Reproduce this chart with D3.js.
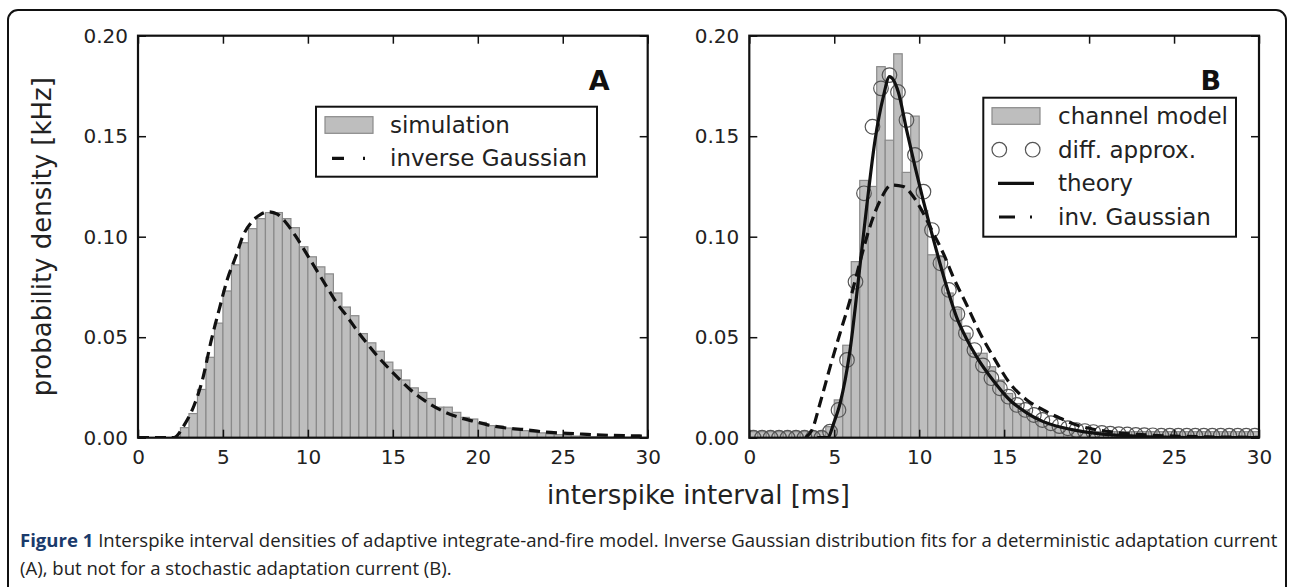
<!DOCTYPE html>
<html>
<head>
<meta charset="utf-8">
<script src="https://cdn.jsdelivr.net/npm/d3@7"></script>
<style>
body { margin: 0; background: #fff; }
svg text { font-family: "DejaVu Sans", sans-serif; fill: #222; }
</style>
</head>
<body>
<div id="chart"></div>
<script>
var width = 1290, height = 587;

// histogram bins (left edges, ms), 0.5 ms wide
var binStart = [0,0.5,1,1.5,2,2.5,3,3.5,4,4.5,5,5.5,6,6.5,7,7.5,8,8.5,9,9.5,
  10,10.5,11,11.5,12,12.5,13,13.5,14,14.5,15,15.5,16,16.5,17,17.5,18,18.5,19,19.5,
  20,20.5,21,21.5,22,22.5,23,23.5,24,24.5,25,25.5,26,26.5,27,27.5,28,28.5,29,29.5];

// panel A: simulation histogram
var simDensity = [0,0,0,0,0.0005,0.005,0.012,0.024,0.040,0.057,
  0.073,0.086,0.097,0.104,0.109,0.112,0.112,0.109,0.1045,0.095,
  0.090,0.085,0.0815,0.072,0.065,0.0607,0.0518,0.0472,0.043,0.0376,
  0.0337,0.0287,0.0248,0.0225,0.0195,0.0152,0.0152,0.0126,0.0101,0.0093,
  0.0076,0.006,0.0058,0.0048,0.0043,0.0035,0.0027,0.0024,0.0018,0.0015,
  0.001,0.0008,0.0006,0.0005,0.0004,0.0003,0.0003,0.0002,0.0002,0.0001];

// panel A: inverse Gaussian fit [ms, kHz]
var invGaussA = [[0,0],[2.1,0],[2.7,0.006],[3.3,0.016],[3.8,0.029],[4.3,0.048],[4.8,0.0645],
  [5.25,0.0786],[5.75,0.090],[6.2,0.1008],[6.7,0.1074],[7.2,0.111],[7.7,0.1124],[8.2,0.1112],
  [8.75,0.1066],[9.3,0.100],[9.9,0.0918],[10.5,0.0835],[11.1,0.0752],[11.7,0.067],[12.3,0.0604],
  [12.85,0.0538],[13.45,0.0472],[14.0,0.0415],[15.0,0.0324],[16.0,0.0241],[16.9,0.0183],
  [17.9,0.0134],[18.9,0.0101],[19.8,0.0081],[20.8,0.006],[21.8,0.0047],[22.8,0.004],
  [23.75,0.003],[24.7,0.0024],[25.7,0.002],[26.7,0.0015],[27.7,0.0012],[28.6,0.001],[30,0.0008]];

// panel B: channel model histogram
var channelDensity = [0.003,0.003,0.003,0.003,0.003,0.003,0.003,0.003,0.003,0.0055,
  0.0188,0.046,0.0876,0.128,0.125,0.1846,0.148,0.191,0.132,0.160,
  0.113,0.091,0.090,0.072,0.064,0.052,0.042,0.042,0.0353,0.0287,
  0.022,0.017,0.0138,0.0104,0.008,0.0063,0.0052,0.0042,0.0035,0.003,
  0.003,0.003,0.003,0.003,0.003,0.003,0.003,0.003,0.003,0.003,
  0.003,0.003,0.003,0.003,0.003,0.003,0.003,0.003,0.003,0.003];

// panel B: diffusion approximation (bin centres)
var diffCenter = [0.25,0.75,1.25,1.75,2.25,2.75,3.25,3.75,4.25,4.75,5.25,5.75,6.25,6.75,7.25,7.75,
  8.25,8.75,9.25,9.75,10.25,10.75,11.25,11.75,12.25,12.75,13.25,13.75,14.25,14.75,15.25,15.75,
  16.25,16.75,17.25,17.75,18.25,18.75,19.25,19.75,20.25,20.75,21.25,21.75,22.25,22.75,23.25,23.75,
  24.25,24.75,25.25,25.75,26.25,26.75,27.25,27.75,28.25,28.75,29.25,29.75];
var diffApprox = [0,0,0,0,0,0,0,0,0,0.003,0.0138,0.0387,0.0776,0.1216,0.1547,0.1738,
  0.1804,0.172,0.158,0.1407,0.1224,0.1033,0.0868,0.0735,0.0615,0.052,0.0436,0.036,0.0296,0.0246,0.0204,0.0163,
  0.0138,0.0113,0.0088,0.0072,0.0058,0.0047,0.0038,0.0033,0.0028,0.0024,0.002,0.0018,0.0016,0.0014,0.0013,0.0012,
  0.001,0.001,0.001,0.001,0.001,0.001,0.001,0.001,0.001,0.001,0.001,0.001];

// panel B: theory and inverse Gaussian
var theoryB = [[4.0,0],[4.6,0],[5.0,0.008],[5.34,0.017],[5.93,0.0436],[6.42,0.0785],[6.91,0.115],
  [7.4,0.148],[7.89,0.1697],[8.25,0.1796],[8.77,0.172],[9.26,0.153],[9.75,0.135],[10.24,0.118],
  [10.74,0.1017],[11.22,0.0868],[11.71,0.0726],[12.2,0.060],[12.8,0.049],[13.4,0.040],[14.4,0.028],
  [15.3,0.019],[16.3,0.0125],[17.3,0.008],[18.3,0.0053],[19.3,0.0035],[20.3,0.0023],[21.2,0.0015],
  [22.2,0.001],[23.2,0.0006],[24.5,0.0003],[26,0.0001],[30,0]];
var invGaussB = [[3.3,0],[3.7,0.004],[4.16,0.017],[4.75,0.035],[5.34,0.052],[5.93,0.0685],[6.5,0.087],
  [7.1,0.105],[7.7,0.118],[8.38,0.1257],[9.06,0.125],[9.65,0.12],[10.24,0.1117],[10.83,0.1017],
  [11.42,0.0917],[12.0,0.080],[12.8,0.066],[13.58,0.052],[14.36,0.0403],[15.34,0.027],[16.33,0.0188],
  [17.3,0.0138],[18.3,0.0097],[19.27,0.0063],[20.25,0.0042],[21.2,0.003],[22.2,0.002],[23.5,0.0013],
  [25,0.0008],[27,0.0004],[30,0.0002]];

var xTicks = [0,5,10,15,20,25,30];
var yTicks = [0,0.05,0.10,0.15,0.20];
var legendA = ["simulation", "inverse Gaussian"];
var legendB = ["channel model", "diff. approx.", "theory", "inv. Gaussian"];

var barFill = "#bebebe", barEdge = "#8a8a8a";
var plotTop = 35.7, plotBottom = 437.7;

var svg = d3.select("#chart")
    .append("svg")
    .attr("width", width)
    .attr("height", height);

// outer figure frame
svg.append("rect")
    .attr("x", 8).attr("y", 10)
    .attr("width", 1278).attr("height", 620)
    .attr("rx", 10)
    .attr("fill", "none")
    .attr("stroke", "#111")
    .attr("stroke-width", 2);

var y = d3.scaleLinear().domain([0, 0.2]).range([plotBottom, plotTop]);

function makePanel(x0, x1, id) {
    var x = d3.scaleLinear().domain([0, 30]).range([x0, x1]);
    var g = svg.append("g");

    svg.append("clipPath").attr("id", id)
      .append("rect")
        .attr("x", x0).attr("y", plotTop)
        .attr("width", x1 - x0).attr("height", plotBottom - plotTop);

    var plot = g.append("g").attr("clip-path", "url(#" + id + ")");
    return {x: x, g: g, plot: plot, x0: x0, x1: x1};
}

function drawAxes(p) {
    var x = p.x, g = p.g;
    var ax = [
        [d3.axisBottom(x).tickValues(xTicks).tickFormat(d3.format("d")), "translate(0," + plotBottom + ")"],
        [d3.axisTop(x).tickValues(xTicks).tickFormat(""), "translate(0," + plotTop + ")"],
        [d3.axisLeft(y).tickValues(yTicks).tickFormat(d3.format(".2f")), "translate(" + p.x0 + ",0)"],
        [d3.axisRight(y).tickValues(yTicks).tickFormat(""), "translate(" + p.x1 + ",0)"]
    ];
    ax.forEach(function(a, i) {
        var axis = a[0].tickSizeInner(-8).tickSizeOuter(0).tickPadding(i == 0 ? 12 : 10);
        var ag = g.append("g").attr("transform", a[1]).call(axis);
        ag.select(".domain").remove();
        ag.attr("font-size", 20).attr("font-family", "DejaVu Sans, sans-serif");
        ag.selectAll("line").attr("stroke", "#111").attr("stroke-width", 1.5);
        ag.selectAll("text").attr("fill", "#222");
    });
    g.append("rect")
        .attr("x", p.x0).attr("y", plotTop)
        .attr("width", p.x1 - p.x0).attr("height", plotBottom - plotTop)
        .attr("fill", "none")
        .attr("stroke", "#111")
        .attr("stroke-width", 2.2);
}

function drawBars(p, values) {
    var x = p.x;
    p.plot.selectAll("rect.bar")
        .data(values.map(function(v, i) { return {x: binStart[i], v: v}; }).filter(function(d) { return d.v > 0; }))
        .enter()
        .append("rect")
        .attr("class", "bar")
        .attr("x", function(d) { return x(d.x); })
        .attr("width", function(d) { return x(d.x + 0.5) - x(d.x); })
        .attr("y", function(d) { return y(d.v); })
        .attr("height", function(d) { return plotBottom - y(d.v); })
        .attr("fill", barFill)
        .attr("stroke", barEdge)
        .attr("stroke-width", 1.2);
}

function drawLine(p, pts, dashed) {
    var line = d3.line()
        .x(function(d) { return p.x(d[0]); })
        .y(function(d) { return y(d[1]); })
        .curve(d3.curveMonotoneX);
    p.plot.append("path")
        .datum(pts)
        .attr("d", line)
        .attr("fill", "none")
        .attr("stroke", "#111")
        .attr("stroke-width", 3.2)
        .attr("stroke-dasharray", dashed ? "11,6" : null);
}

// ---- panel A
var pA = makePanel(138, 647.7, "clipA");
drawBars(pA, simDensity);
drawLine(pA, invGaussA, true);
drawAxes(pA);

// ---- panel B
var pB = makePanel(749.3, 1259, "clipB");
drawBars(pB, channelDensity);
pB.plot.selectAll("circle")
    .data(diffCenter)
    .enter()
    .append("circle")
    .attr("cx", function(d) { return pB.x(d); })
    .attr("cy", function(d, i) { return y(diffApprox[i]); })
    .attr("r", 7.3)
    .attr("fill", "none")
    .attr("stroke", "#555")
    .attr("stroke-width", 1.2);
drawLine(pB, theoryB, false);
drawLine(pB, invGaussB, true);
drawAxes(pB);

// panel letters
[[pA, "A"], [pB, "B"]].forEach(function(d) {
    svg.append("text")
        .attr("x", d[0].x1 - 38)
        .attr("y", 90)
        .attr("text-anchor", "end")
        .attr("font-size", 27)
        .attr("font-weight", "bold")
        .style("fill", "#111")
        .text(d[1]);
});

// ---- legend A
var lgA = svg.append("g");
lgA.append("rect")
    .attr("x", 316).attr("y", 106.7).attr("width", 281).attr("height", 70)
    .attr("fill", "#fff").attr("stroke", "#111").attr("stroke-width", 2);
lgA.append("rect")
    .attr("x", 325).attr("y", 116.7).attr("width", 48).attr("height", 16.6)
    .attr("fill", barFill).attr("stroke", barEdge).attr("stroke-width", 1.2);
lgA.append("line")
    .attr("x1", 332).attr("x2", 366).attr("y1", 158.3).attr("y2", 158.3)
    .attr("stroke", "#111").attr("stroke-width", 3.2)
    .attr("stroke-dasharray", "12,19,2,40");
lgA.selectAll("text.lg")
    .data(legendA)
    .enter()
    .append("text")
    .attr("class", "lg")
    .attr("x", 390)
    .attr("y", function(d, i) { return 125 + i * 33.3; })
    .attr("dy", "0.35em")
    .attr("font-size", 23)
    .text(function(d) { return d; });

// ---- legend B
var rowsB = [116, 149.7, 183.4, 217];
var lgB = svg.append("g");
lgB.append("rect")
    .attr("x", 983.3).attr("y", 97.7).attr("width", 252.7).attr("height", 139)
    .attr("fill", "#fff").attr("stroke", "#111").attr("stroke-width", 2);
lgB.append("rect")
    .attr("x", 992).attr("y", rowsB[0] - 8.3).attr("width", 48).attr("height", 16.6)
    .attr("fill", barFill).attr("stroke", barEdge).attr("stroke-width", 1.2);
[999.3, 1032.7].forEach(function(cx) {
    lgB.append("circle")
        .attr("cx", cx).attr("cy", rowsB[1]).attr("r", 7.3)
        .attr("fill", "none").attr("stroke", "#555").attr("stroke-width", 1.2);
});
lgB.append("line")
    .attr("x1", 998).attr("x2", 1034).attr("y1", rowsB[2]).attr("y2", rowsB[2])
    .attr("stroke", "#111").attr("stroke-width", 3.2);
lgB.append("line")
    .attr("x1", 999).attr("x2", 1034).attr("y1", rowsB[3]).attr("y2", rowsB[3])
    .attr("stroke", "#111").attr("stroke-width", 3.2)
    .attr("stroke-dasharray", "16,15,2,40");
lgB.selectAll("text.lg")
    .data(legendB)
    .enter()
    .append("text")
    .attr("class", "lg")
    .attr("x", 1058)
    .attr("y", function(d, i) { return rowsB[i]; })
    .attr("dy", "0.35em")
    .attr("font-size", 23)
    .text(function(d) { return d; });

// ---- axis labels
svg.append("text")
    .attr("x", 698.5)
    .attr("y", 504)
    .attr("text-anchor", "middle")
    .attr("font-size", 26)
    .text("interspike interval [ms]");

svg.append("text")
    .attr("transform", "translate(51," + (plotTop + plotBottom) / 2 + ") rotate(-90)")
    .attr("text-anchor", "middle")
    .attr("font-size", 26)
    .text("probability density [kHz]");

// ---- caption
var capFont = "'Open Sans', 'Noto Sans', sans-serif";
var cap1 = svg.append("text")
    .attr("x", 20).attr("y", 547)
    .style("font-family", capFont)
    .attr("font-size", 16);
cap1.append("tspan").attr("font-weight", "bold").style("fill", "#1a3a6b").text("Figure 1");
cap1.append("tspan").text(" Interspike interval densities of adaptive integrate-and-fire model. Inverse Gaussian distribution fits for a deterministic adaptation current");

// fit the first caption line to the frame width
var natural = cap1.node().getComputedTextLength();
var capSize = 16 * 1258 / natural;
cap1.attr("font-size", capSize);

svg.append("text")
    .attr("x", 20).attr("y", 575)
    .style("font-family", capFont)
    .attr("font-size", capSize)
    .text("(A), but not for a stochastic adaptation current (B).");
</script>
</body>
</html>
